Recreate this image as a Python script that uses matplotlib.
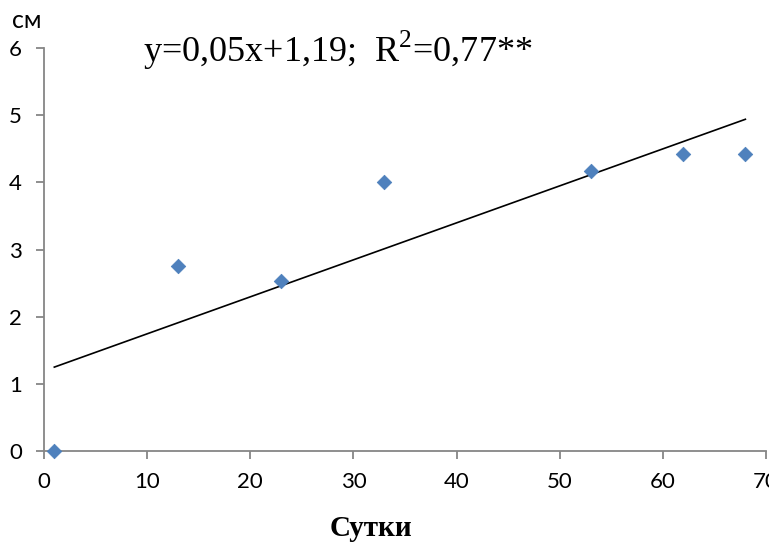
import matplotlib.pyplot as plt
import numpy as np

# days and length (cm)
days = [1, 13, 23, 33, 53, 62, 68]
length_cm = [0.0, 2.75, 2.53, 4.0, 4.17, 4.42, 4.42]
x_ticks = [0, 10, 20, 30, 40, 50, 60, 70]
y_ticks = [0, 1, 2, 3, 4, 5, 6]
equation = r"y=0,05x+1,19;  R$^\mathregular{2}$=0,77**"

fig = plt.figure(figsize=(7.69, 5.45), dpi=100)
ax = fig.add_axes([44 / 769, 94 / 545, 722 / 769, 403 / 545])

ax.scatter(days, length_cm, marker='D', s=55, color='#4F81BD',
           edgecolors='#4A7EBB', linewidths=0.5, zorder=3, clip_on=False)

# linear trend line through the points
k, b = np.polyfit(days, length_cm, 1)
xs = np.array([days[0], days[-1]])
ax.plot(xs, k * xs + b, color='black', lw=1.2, zorder=2)

ax.set_xlim(0, 70)
ax.set_ylim(0, 6)
ax.set_xticks(x_ticks)
ax.set_yticks(y_ticks)

grey = '#868686'
for side in ['top', 'right']:
    ax.spines[side].set_visible(False)
for side in ['left', 'bottom']:
    ax.spines[side].set_color(grey)
    ax.spines[side].set_linewidth(1.3)
ax.tick_params(axis='both', colors=grey, length=6, width=1.3,
               labelcolor='black', labelsize=16)
ax.tick_params(axis='y', pad=10)
ax.tick_params(axis='x', pad=9)
for lab in ax.get_xticklabels() + ax.get_yticklabels():
    lab.set_family('Lato')

ax.text(9.6, 5.79, equation, ha='left', va='baseline', fontsize=26,
        family='Liberation Serif')
fig.text(12 / 769, 1 - 20 / 545, "см", ha='left', va='center', fontsize=18,
         family='Lato')
fig.text(371 / 769, 1 - 528 / 545, "Сутки", ha='center', va='center',
         fontsize=21, fontweight='bold', family='Liberation Serif')

fig.savefig('out.png', dpi=100)
